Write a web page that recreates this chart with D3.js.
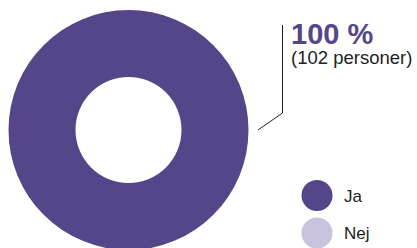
<!DOCTYPE html>
<html lang="sv">
<head>
  <meta charset="UTF-8">
  <title>Ja / Nej</title>
  <script src="https://d3js.org/d3.v7.min.js"></script>
  <style>
    body { margin: 0; background: #fff; }
    svg { display: block; font-family: "Liberation Sans", Arial, sans-serif; }
  </style>
</head>
<body>
  <svg width="417" height="248"></svg>

  <script>
    const categories = [`Ja`, `Nej`];
    const values = [102, 0];
    const colors = [`#55468a`, `#c8c2dc`];

    const width = 417;
    const height = 248;
    const cx = 128.5, cy = 130;
    const outer = 120, inner = 53;

    const svg = d3.select(`svg`);
    const data = categories.map((c, i) => ({name: c, value: values[i], color: colors[i]}));
    const total = d3.sum(values);

    const pie = d3.pie().sort(null).value(d => d.value);
    const arc = d3.arc().innerRadius(inner).outerRadius(outer);

    svg.append(`g`)
      .attr(`transform`, `translate(${cx},${cy})`)
      .selectAll(`path`)
      .data(pie(data).filter(d => d.value > 0))
      .join(`path`)
      .attr(`d`, arc)
      .attr(`fill`, d => d.data.color);

    // leader line + label for the Ja slice
    svg.append(`path`)
      .attr(`d`, `M258,130 L282.5,113 L282.5,25`)
      .attr(`fill`, `none`)
      .attr(`stroke`, `#222`)
      .attr(`stroke-width`, 1);

    const pct = Math.round(values[0] / total * 100);
    svg.append(`text`)
      .attr(`x`, 291).attr(`y`, 44)
      .attr(`fill`, colors[0])
      .attr(`font-weight`, `bold`)
      .attr(`font-size`, 29)
      .text(`${pct} %`);

    svg.append(`text`)
      .attr(`x`, 291).attr(`y`, 64)
      .attr(`fill`, `#222`)
      .attr(`font-size`, 18.5)
      .text(`(${values[0]} personer)`);

    // legend
    const legend = svg.append(`g`)
      .selectAll(`g`)
      .data(data)
      .join(`g`)
      .attr(`transform`, (d, i) => `translate(317,${195.5 + i * 37.5})`);

    legend.append(`circle`)
      .attr(`r`, 15.5)
      .attr(`fill`, d => d.color);

    legend.append(`text`)
      .attr(`x`, 27).attr(`y`, 6)
      .attr(`font-size`, 17)
      .attr(`fill`, `#222`)
      .text(d => d.name);
  </script>
</body>
</html>
